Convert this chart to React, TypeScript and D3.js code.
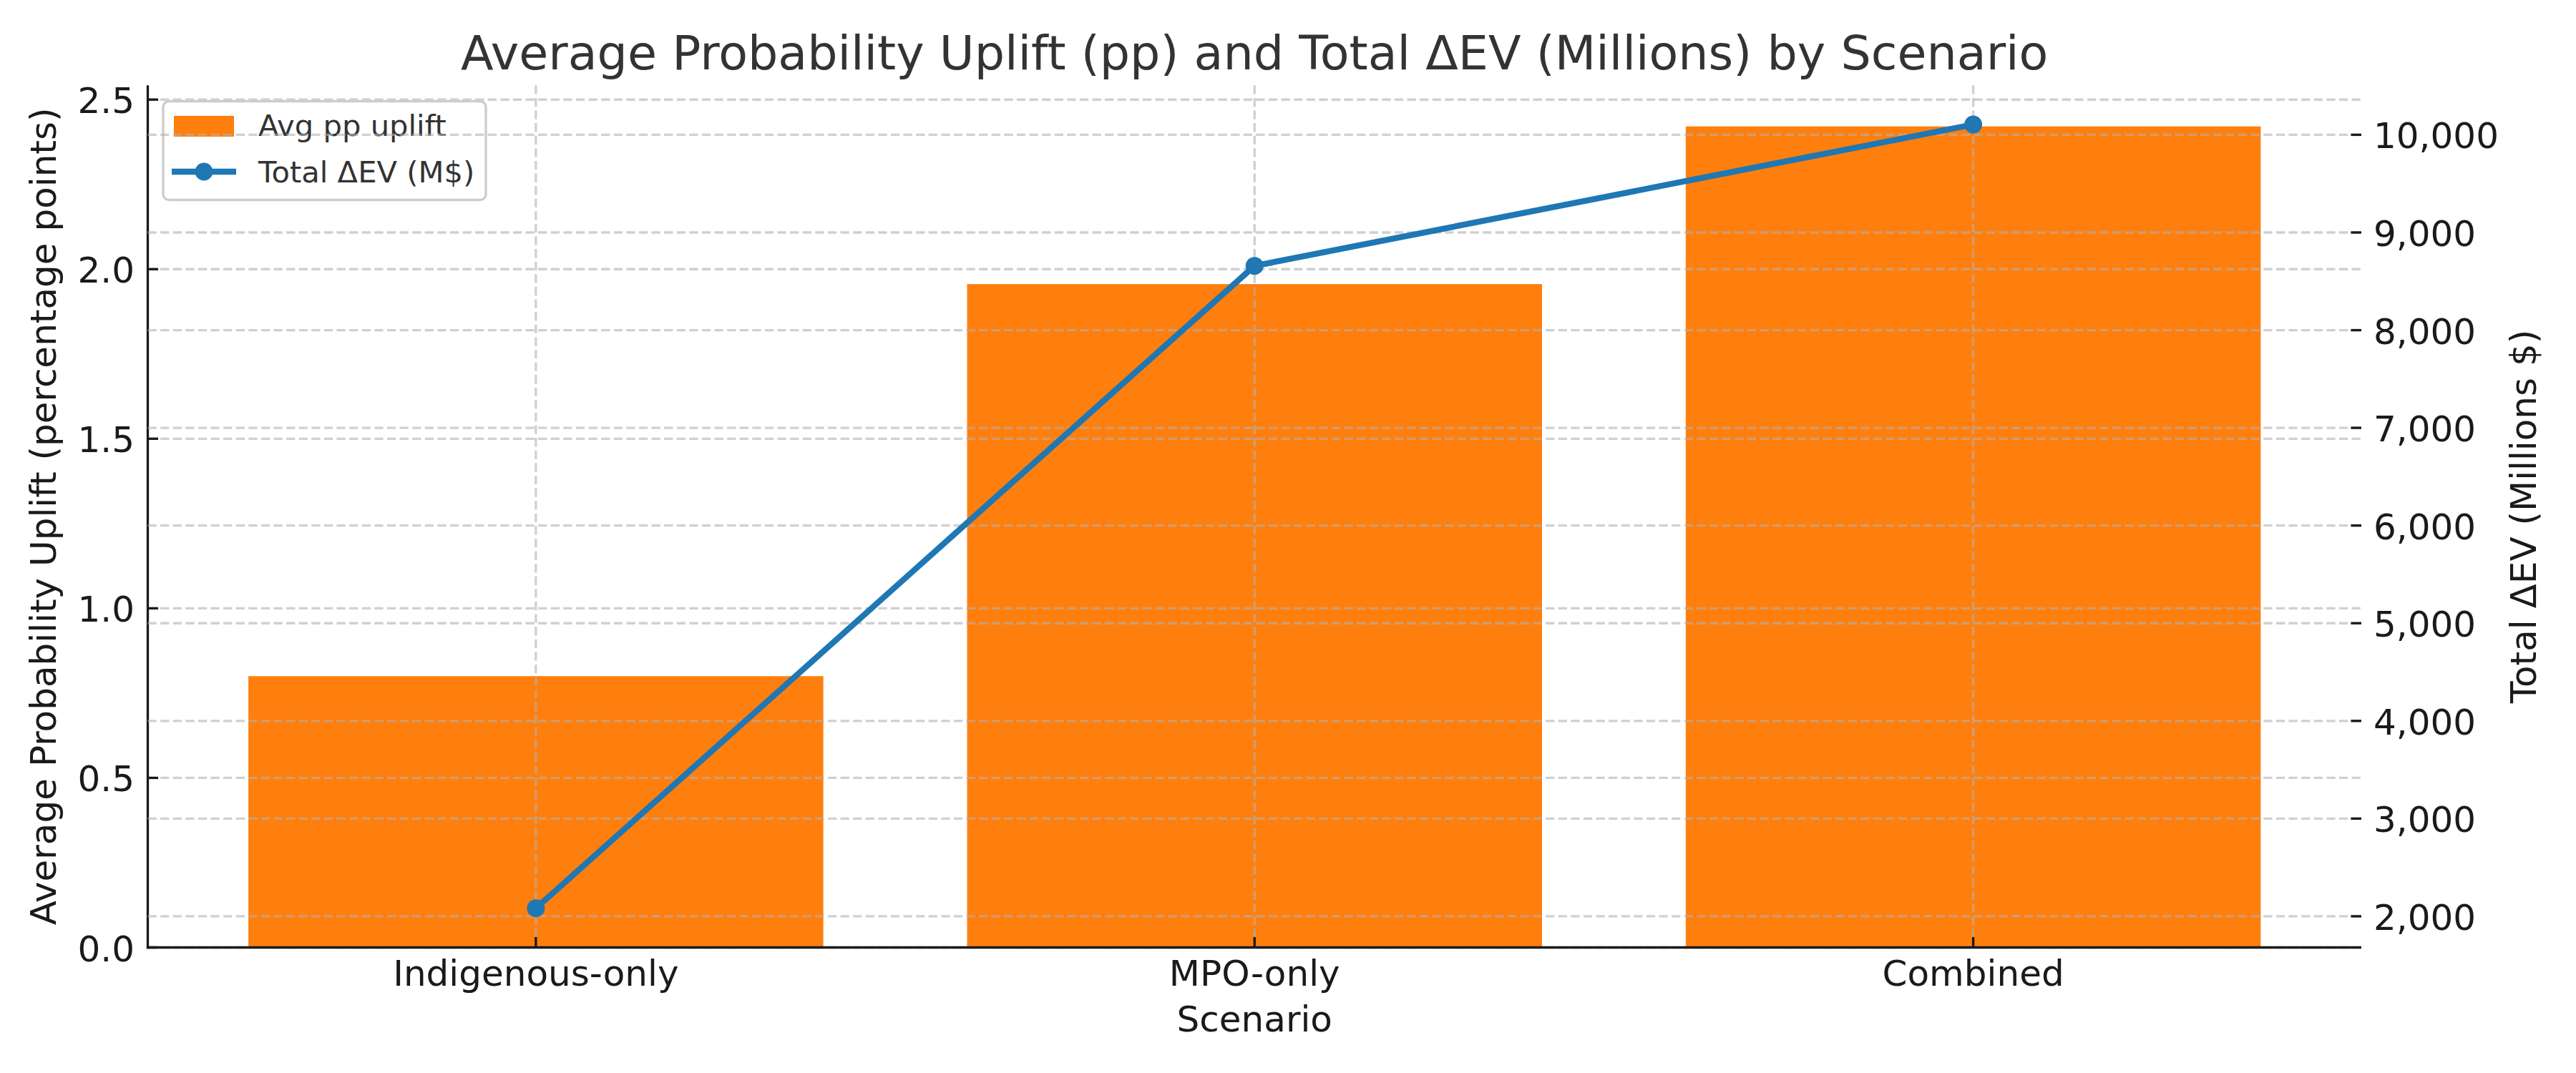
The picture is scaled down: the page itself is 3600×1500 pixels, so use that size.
import { useRef, useEffect } from "react";
import * as d3 from "d3";

const scenarios = ["Indigenous-only", "MPO-only", "Combined"];
const avgUplift = [0.8, 1.956, 2.421];
const totalEV = [2082, 8658, 10105];

const legendLabels = ["Avg pp uplift", "Total ΔEV (M$)"];

export default function App() {
  const svgRef = useRef<SVGSVGElement>(null);

  useEffect(() => {
    if (!svgRef.current) return;
    document.body.style.margin = "0";

    const svg = d3.select(svgRef.current);
    svg.selectAll("*").remove();

    const width = 3600;
    const height = 1500;
    const left = 206.5;
    const right = 3300;
    const top = 119.3;
    const bottom = 1324.5;
    const font = "DejaVu Sans, sans-serif";
    const lw = 3.33;
    const tickLen = 14.6;
    const orange = "#ff7f0e";
    const blue = "#1f77b4";
    const dark = "#1a1a1a";

    svg.attr("viewBox", `0 0 ${width} ${height}`);
    svg.append("rect").attr("width", width).attr("height", height).attr("fill", "#ffffff");

    const x = d3.scaleBand<string>().domain(scenarios).range([left, right]).paddingInner(0.2).paddingOuter(0.14);
    const cx = (s: string) => (x(s) ?? 0) + x.bandwidth() / 2;

    const y1 = d3.scaleLinear().domain([0, (d3.max(avgUplift) ?? 0) * 1.05]).range([bottom, top]);
    const evMin = d3.min(totalEV) ?? 0;
    const evMax = d3.max(totalEV) ?? 0;
    const evPad = (evMax - evMin) * 0.05;
    const y2 = d3.scaleLinear().domain([evMin - evPad, evMax + evPad]).range([bottom, top]);

    const gridStyle = (sel: d3.Selection<any, any, any, any>) =>
      sel
        .attr("stroke", "#b0b0b0")
        .attr("stroke-opacity", 0.6)
        .attr("stroke-width", lw)
        .attr("stroke-dasharray", "12.3 5.3")
        .attr("fill", "none");

    // Bars (primary axis)
    svg
      .append("g")
      .selectAll("rect")
      .data(scenarios)
      .join("rect")
      .attr("x", (d) => x(d) ?? 0)
      .attr("width", x.bandwidth())
      .attr("y", (_, i) => y1(avgUplift[i]))
      .attr("height", (_, i) => bottom - y1(avgUplift[i]))
      .attr("fill", orange);

    // Primary grid
    const g1 = svg.append("g");
    g1.selectAll(".gx")
      .data(scenarios)
      .join("line")
      .attr("x1", cx)
      .attr("x2", cx)
      .attr("y1", top)
      .attr("y2", bottom)
      .call(gridStyle);
    g1.selectAll(".gy")
      .data(y1.ticks(5))
      .join("line")
      .attr("class", "gy")
      .attr("x1", left)
      .attr("x2", right)
      .attr("y1", (d) => y1(d))
      .attr("y2", (d) => y1(d))
      .call(gridStyle);

    // Spines
    svg.append("line").attr("x1", left).attr("x2", left).attr("y1", top).attr("y2", bottom + lw / 2)
      .attr("stroke", dark).attr("stroke-width", lw);
    svg.append("line").attr("x1", left - lw / 2).attr("x2", right).attr("y1", bottom).attr("y2", bottom)
      .attr("stroke", dark).attr("stroke-width", lw);

    // Left ticks
    const lt = svg.append("g");
    y1.ticks(5).forEach((t) => {
      lt.append("line").attr("x1", left).attr("x2", left + tickLen).attr("y1", y1(t)).attr("y2", y1(t))
        .attr("stroke", dark).attr("stroke-width", lw);
      lt.append("text").attr("x", 188).attr("y", y1(t) + 19).attr("text-anchor", "end")
        .attr("font-family", font).attr("font-size", 50).attr("fill", dark).text(d3.format(".1f")(t));
    });

    // Bottom ticks
    scenarios.forEach((s) => {
      lt.append("line").attr("x1", cx(s)).attr("x2", cx(s)).attr("y1", bottom).attr("y2", bottom - tickLen)
        .attr("stroke", dark).attr("stroke-width", lw);
      lt.append("text").attr("x", cx(s)).attr("y", 1378).attr("text-anchor", "middle")
        .attr("font-family", font).attr("font-size", 50).attr("fill", dark).text(s);
    });

    // Axis labels and title
    svg.append("text").attr("x", (left + right) / 2).attr("y", 1441.5).attr("text-anchor", "middle")
      .attr("font-family", font).attr("font-size", 50).attr("fill", dark).text("Scenario");
    svg.append("text").attr("transform", `translate(78,${(top + bottom) / 2}) rotate(-90)`).attr("text-anchor", "middle")
      .attr("font-family", font).attr("font-size", 50).attr("fill", dark)
      .text("Average Probability Uplift (percentage points)");
    svg.append("text").attr("transform", `translate(3544,${(top + bottom) / 2}) rotate(-90)`).attr("text-anchor", "middle")
      .attr("font-family", font).attr("font-size", 50).attr("fill", dark).text("Total ΔEV (Millions $)");
    svg.append("text").attr("x", (left + right) / 2).attr("y", 97).attr("text-anchor", "middle")
      .attr("font-family", font).attr("font-size", 66.7).attr("fill", "#333333")
      .text("Average Probability Uplift (pp) and Total ΔEV (Millions) by Scenario");

    // Legend (on primary axes)
    const lg = svg.append("g");
    lg.append("rect").attr("x", 228).attr("y", 141.5).attr("width", 451).attr("height", 138).attr("rx", 8)
      .attr("fill", "#ffffff").attr("fill-opacity", 0.8).attr("stroke", "#cccccc").attr("stroke-width", lw);
    lg.append("rect").attr("x", 243).attr("y", 162).attr("width", 84).attr("height", 29).attr("fill", orange);
    lg.append("line").attr("x1", 240).attr("x2", 330).attr("y1", 240).attr("y2", 240)
      .attr("stroke", blue).attr("stroke-width", 8.33);
    lg.append("circle").attr("cx", 285).attr("cy", 240).attr("r", 12.5).attr("fill", blue);
    legendLabels.forEach((l, i) => {
      lg.append("text").attr("x", 361).attr("y", 190 + i * 65).attr("font-family", font).attr("font-size", 41.7)
        .attr("fill", "#333333").text(l);
    });

    // Secondary grid
    svg.append("g")
      .selectAll("line")
      .data(y2.ticks(10))
      .join("line")
      .attr("x1", left)
      .attr("x2", right)
      .attr("y1", (d) => y2(d))
      .attr("y2", (d) => y2(d))
      .call(gridStyle);

    // Right ticks
    const rt = svg.append("g");
    y2.ticks(10).forEach((t) => {
      rt.append("line").attr("x1", right).attr("x2", right - tickLen).attr("y1", y2(t)).attr("y2", y2(t))
        .attr("stroke", dark).attr("stroke-width", lw);
      rt.append("text").attr("x", 3317).attr("y", y2(t) + 19).attr("font-family", font).attr("font-size", 50)
        .attr("fill", dark).text(d3.format(",")(t));
    });

    // Line (secondary axis)
    const line = d3
      .line<number>()
      .x((_, i) => cx(scenarios[i]))
      .y((d) => y2(d));
    svg.append("path").datum(totalEV).attr("d", line).attr("fill", "none").attr("stroke", blue)
      .attr("stroke-width", 8.33).attr("stroke-linejoin", "round").attr("stroke-linecap", "square");
    svg.append("g")
      .selectAll("circle")
      .data(totalEV)
      .join("circle")
      .attr("cx", (_, i) => cx(scenarios[i]))
      .attr("cy", (d) => y2(d))
      .attr("r", 12.5)
      .attr("fill", blue);
  }, []);

  return (
    <svg
      ref={svgRef}
      width={3600}
      height={1500}
      style={{ position: "absolute", left: 0, top: 0, display: "block" }}
    />
  );
}
